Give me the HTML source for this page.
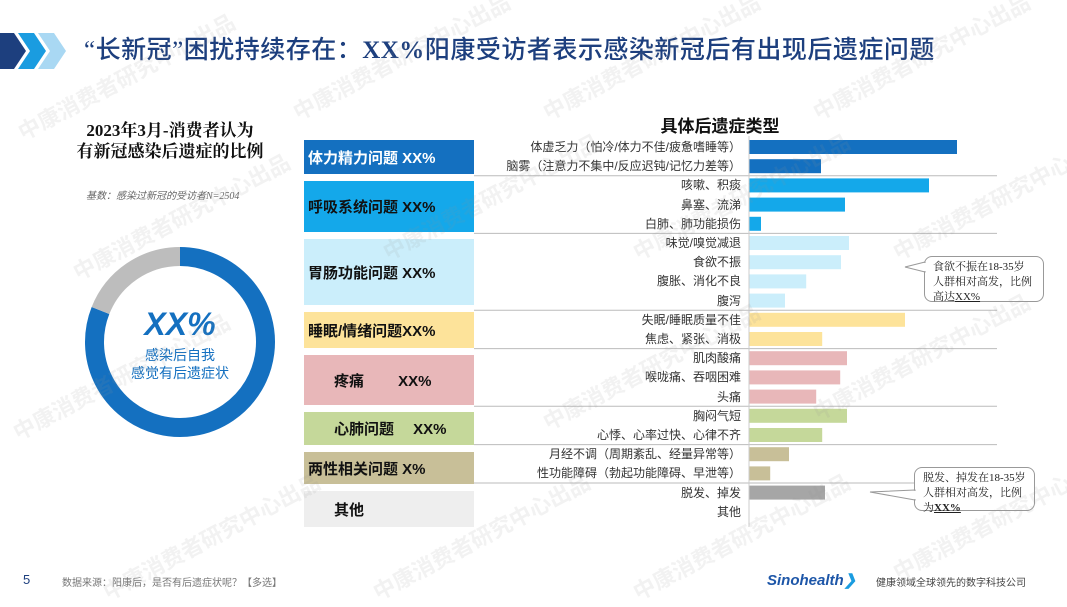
<!DOCTYPE html>
<html><head><meta charset="utf-8">
<style>
body{margin:0;width:1067px;height:600px;background:#fff;overflow:hidden;position:relative;font-family:"Liberation Sans","Noto Sans CJK SC",sans-serif;}
.abs{position:absolute;}
.wm{position:absolute;color:rgba(150,150,150,0.12);font-size:22px;font-weight:bold;transform:rotate(-28deg);white-space:nowrap;pointer-events:none;font-family:"Noto Sans CJK SC",sans-serif;}
.cat{position:absolute;left:304px;width:170px;font-size:15px;font-weight:bold;display:flex;align-items:center;box-sizing:border-box;padding-left:4px;color:#111;font-family:"Liberation Sans","Noto Sans CJK SC",sans-serif;}
.lbl{position:absolute;right:326px;font-size:12px;color:#333;white-space:nowrap;line-height:14px;font-family:"Liberation Sans","Noto Sans CJK SC",sans-serif;}
.call{position:absolute;border:1px solid #999;border-radius:8px;background:#fff;font-size:11px;line-height:15px;padding:3px 8px;color:#222;font-family:"Liberation Serif","Noto Serif CJK SC",serif;box-sizing:border-box;}
</style></head><body>
<svg class="abs" style="left:0;top:33px" width="70" height="36">
<polygon points="0,0 14,0 26,18 14,36 0,36" fill="#1d3f7e"/>
<polygon points="18,0 34,0 46,18 34,36 18,36 30,18" fill="#1a9ce0"/>
<polygon points="38,0 54,0 66,18 54,36 38,36 50,18" fill="#a9d8f3"/>
</svg>
<div class="abs" style="left:84px;top:30px;font-size:25px;color:#1d3f7e;font-family:'Liberation Serif','Noto Sans CJK SC',serif;font-weight:500;white-space:nowrap;letter-spacing:0.5px">“长新冠”困扰持续存在：<b>XX%</b>阳康受访者表示感染新冠后有出现后遗症问题</div>

<div class="abs" style="left:40px;top:120px;width:260px;text-align:center;font-size:17px;font-weight:bold;line-height:21px;font-family:'Liberation Serif','Noto Serif CJK SC',serif;color:#111">2023年3月-消费者认为<br>有新冠感染后遗症的比例</div>
<div class="abs" style="left:86px;top:187px;font-size:10px;font-style:italic;color:#666;font-family:'Liberation Serif','Noto Sans CJK SC',serif">基数：感染过新冠的受访者N=2504</div>

<svg class="abs" style="left:0;top:0" width="300" height="600" id="donut"></svg>
<div class="abs" style="left:100px;top:306px;width:160px;text-align:center;font-size:32px;font-weight:bold;font-style:italic;color:#1470c0">XX%</div>
<div class="abs" style="left:100px;top:346px;width:160px;text-align:center;font-size:14px;line-height:18px;color:#1470c0">感染后自我<br>感觉有后遗症状</div>

<div class="abs" style="left:620px;top:112px;width:200px;text-align:center;font-size:17px;font-weight:bold;color:#111">具体后遗症类型</div>
<div id="cats"></div>
<svg class="abs" style="left:0;top:0" width="1067" height="600" id="bars"></svg>
<div id="lbls"></div>

<div class="call" style="left:924px;top:256px;width:120px;height:46px">食欲不振在18-35岁人群相对高发，比例高达<u>XX%</u></div>
<div class="call" style="left:914px;top:467px;width:121px;height:44px">脱发、掉发在18-35岁人群相对高发，比例为<u><b>XX%</b></u></div>
<svg class="abs" style="left:0;top:0" width="1067" height="600">
<polygon points="925,262 905,267 925,272" fill="#fff" stroke="#999"/>
<line x1="925" y1="263" x2="925" y2="271" stroke="#fff" stroke-width="2"/>
<polygon points="915,490 870,492 915,500" fill="#fff" stroke="#999"/>
<line x1="915" y1="491" x2="915" y2="499" stroke="#fff" stroke-width="2"/>
</svg>

<div class="abs" style="left:23px;top:572px;font-size:13px;color:#1d3f7e">5</div>
<div class="abs" style="left:62px;top:574px;font-size:10px;color:#777">数据来源：阳康后，是否有后遗症状呢？【多选】</div>
<div class="abs" style="left:767px;top:571px;font-size:15px;font-weight:bold;font-style:italic;color:#1d56a8">Sinohealth<span style="color:#1a9ce0">❯</span></div>
<div class="abs" style="left:876px;top:574px;font-size:10px;color:#444">健康领域全球领先的数字科技公司</div>

<div class="wm" style="left:5px;top:60px">中康消费者研究中心出品</div>
<div class="wm" style="left:280px;top:40px">中康消费者研究中心出品</div>
<div class="wm" style="left:530px;top:40px">中康消费者研究中心出品</div>
<div class="wm" style="left:800px;top:40px">中康消费者研究中心出品</div>
<div class="wm" style="left:60px;top:200px">中康消费者研究中心出品</div>
<div class="wm" style="left:370px;top:180px">中康消费者研究中心出品</div>
<div class="wm" style="left:620px;top:180px">中康消费者研究中心出品</div>
<div class="wm" style="left:880px;top:180px">中康消费者研究中心出品</div>
<div class="wm" style="left:0px;top:360px">中康消费者研究中心出品</div>
<div class="wm" style="left:530px;top:350px">中康消费者研究中心出品</div>
<div class="wm" style="left:800px;top:340px">中康消费者研究中心出品</div>
<div class="wm" style="left:90px;top:520px">中康消费者研究中心出品</div>
<div class="wm" style="left:360px;top:520px">中康消费者研究中心出品</div>
<div class="wm" style="left:620px;top:520px">中康消费者研究中心出品</div>
<div class="wm" style="left:880px;top:500px">中康消费者研究中心出品</div>

<script>
const donutValues=[81,19];
const donutColors=['#1470c0','#bdbdbd'];
const categories=['体力精力问题 XX%','呼吸系统问题 XX%','胃肠功能问题 XX%','睡眠/情绪问题XX%','疼痛　　 XX%','心肺问题　 XX%','两性相关问题 X%','其他'];
const catColors=['#1470c0','#14a8ea','#cbeefb','#fde39a','#e8b7b9','#c5d89a','#c8bf98','#eeeeee'];
const catTextColors=['#fff','#111','#111','#111','#111','#111','#111','#111'];
const catCounts=[2,3,4,2,3,2,2,2];
const symptoms=['体虚乏力（怕冷/体力不佳/疲惫嗜睡等）','脑雾（注意力不集中/反应迟钝/记忆力差等）','咳嗽、积痰','鼻塞、流涕','白肺、肺功能损伤','味觉/嗅觉减退','食欲不振','腹胀、消化不良','腹泻','失眠/睡眠质量不佳','焦虑、紧张、消极','肌肉酸痛','喉咙痛、吞咽困难','头痛','胸闷气短','心悸、心率过快、心律不齐','月经不调（周期紊乱、经量异常等）','性功能障碍（勃起功能障碍、早泄等）','脱发、掉发','其他'];
const values=[52,18,45,24,3,25,23,14.3,9,39,18.3,24.5,22.8,16.8,24.5,18.3,10,5.3,19,0];

const NS='http://www.w3.org/2000/svg';
const d=document.getElementById('donut');
const cx=180,cy=342,R=85.5,W=19;
const tot=donutValues.reduce((a,b)=>a+b,0);
let a0=0;
donutValues.forEach((v,i)=>{
  const a1=a0+v/tot*2*Math.PI;
  const p=document.createElementNS(NS,'path');
  const x0=cx+R*Math.sin(a0),y0=cy-R*Math.cos(a0),x1=cx+R*Math.sin(a1),y1=cy-R*Math.cos(a1);
  p.setAttribute('d',`M${x0},${y0} A${R},${R} 0 ${a1-a0>Math.PI?1:0} 1 ${x1},${y1}`);
  p.setAttribute('fill','none');p.setAttribute('stroke',donutColors[i]);p.setAttribute('stroke-width',W);
  
  
  d.appendChild(p);a0=a1;
});
const svg=document.getElementById('bars');
const x0=749,pxPer=4.0,top0=140,pitch=19.2,bh=14;
const xs=v=>v*pxPer;
const rowY=i=>top0+i*pitch;
const catBoxes=[[140,174],[181,232],[239,305],[312,348],[355,405],[412,445],[452,484],[491,527]];
const cdiv=document.getElementById('cats');
let idx=0;
categories.forEach((c,ci)=>{
  const b=document.createElement('div');
  b.className='cat';
  
  
  b.style.top=catBoxes[ci][0]+'px';b.style.height=(catBoxes[ci][1]-catBoxes[ci][0])+'px';
  b.style.background=catColors[ci];b.style.color=catTextColors[ci];
  if(ci===4||ci===5||ci===7){b.style.paddingLeft='30px';}
  b.style.whiteSpace='pre';
  b.textContent=c;cdiv.appendChild(b);
  for(let k=0;k<catCounts[ci];k++){
    const r=document.createElementNS(NS,'rect');
    r.setAttribute('x',x0);r.setAttribute('y',rowY(idx));
    r.setAttribute('width',xs(values[idx]));r.setAttribute('height',bh);
    r.setAttribute('fill',ci===7?'#a6a6a6':catColors[ci]);
    
    
    svg.appendChild(r);idx++;
  }
  if(ci<categories.length-1){
    const ly=(rowY(idx-1)+bh+rowY(idx))/2;
    const l=document.createElementNS(NS,'line');
    l.setAttribute('x1',474);l.setAttribute('x2',997);l.setAttribute('y1',ly);l.setAttribute('y2',ly);
    l.setAttribute('stroke','#bbb');l.setAttribute('stroke-width',1);
    
    
    svg.appendChild(l);
  }
});
const ax=document.createElementNS(NS,'line');
ax.setAttribute('x1',x0);ax.setAttribute('x2',x0);ax.setAttribute('y1',136);ax.setAttribute('y2',527);
ax.setAttribute('stroke','#ccc');


svg.appendChild(ax);
const ld=document.getElementById('lbls');
symptoms.forEach((s,i)=>{
  const e=document.createElement('div');e.className='lbl';
  
  
  e.style.top=rowY(i)+'px';e.textContent=s;ld.appendChild(e);
});
</script>
</body></html>
